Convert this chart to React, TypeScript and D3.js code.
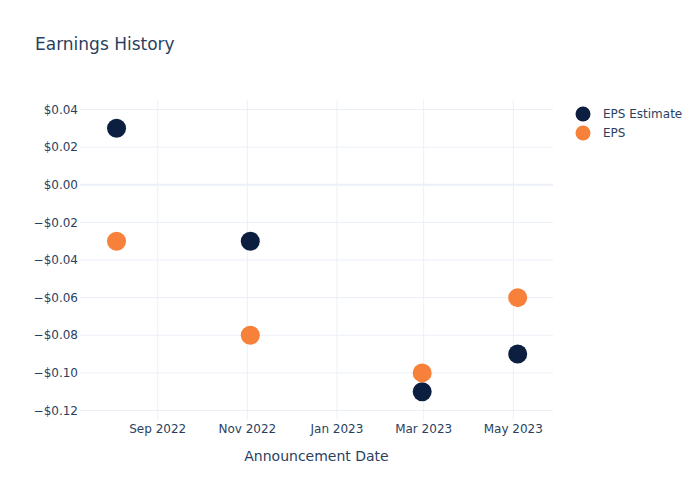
import React from "react";
import * as d3 from "d3";

const dates = ["2022-08-04", "2022-11-03", "2023-02-28", "2023-05-04"];
const epsEstimate = [0.03, -0.03, -0.11, -0.09];
const eps = [-0.03, -0.08, -0.1, -0.06];
const yTicks = [0.04, 0.02, 0, -0.02, -0.04, -0.06, -0.08, -0.1, -0.12];
const xTicks = ["2022-09-01", "2022-11-01", "2023-01-01", "2023-03-01", "2023-05-01"];
const seriesNames = ["EPS Estimate", "EPS"];
const colors = ["#0c1f41", "#f7803a"];

const W = 700, H = 500;
const plotLeft = 80, plotRight = 553, plotTop = 100, plotBottom = 420;
const font = "'DejaVu Sans', Verdana, sans-serif";
const textColor = "#2a3f5f";
const gridColor = "#ebf0f8";

export default function App() {
  const parse = d3.utcParse("%Y-%m-%d");
  const x = d3.scaleUtc()
    .domain([parse("2022-09-01")!, parse("2023-05-01")!])
    .range([157.7, 513.3]);
  const y = d3.scaleLinear().domain([-0.12, 0.04]).range([410.5, 109.5]);
  const fmtTick = d3.utcFormat("%b %Y");
  const fmtY = (v: number) => {
    const s = "$" + Math.abs(v).toFixed(2);
    return v < -1e-9 ? "\u2212" + s : s;
  };
  const series = [epsEstimate, eps];

  return (
    <svg width={W} height={H} style={{ position: "absolute", left: 0, top: 0, background: "#fff" }} fontFamily={font}>
      <rect x={0} y={0} width={W} height={H} fill="#fff" />
      {xTicks.map((t) => {
        const px = x(parse(t)!);
        return (
          <g key={t}>
            <line x1={px} x2={px} y1={plotTop} y2={plotBottom} stroke={gridColor} strokeWidth={1} />
            <text x={px} y={plotBottom + 9} textAnchor="middle" fontSize={12} fill={textColor} dy="0.35em">
              {fmtTick(parse(t)!)}
            </text>
          </g>
        );
      })}
      {yTicks.map((t) => {
        const py = y(t);
        return (
          <g key={t}>
            <line x1={plotLeft} x2={plotRight} y1={py} y2={py} stroke={gridColor} strokeWidth={t === 0 ? 2 : 1} />
            <text x={plotLeft - 2} y={py} textAnchor="end" fontSize={12} fill={textColor} dy="0.35em">
              {fmtY(t)}
            </text>
          </g>
        );
      })}
      {series.map((vals, si) => (
        <g key={si}>
          {vals.map((v, i) => (
            <circle key={i} cx={x(parse(dates[i])!)} cy={y(v)} r={9.5} fill={colors[si]} />
          ))}
        </g>
      ))}
      <text x={35} y={50} fontSize={17} fill={textColor}>Earnings History</text>
      <text x={(plotLeft + plotRight) / 2} y={461} textAnchor="middle" fontSize={14} fill={textColor}>
        Announcement Date
      </text>
      {seriesNames.map((n, i) => (
        <g key={n} transform={`translate(0, ${114 + i * 19})`}>
          <circle cx={583} cy={0} r={7.5} fill={colors[i]} />
          <text x={603} y={0} dy="0.35em" fontSize={12} fill={textColor}>{n}</text>
        </g>
      ))}
    </svg>
  );
}
